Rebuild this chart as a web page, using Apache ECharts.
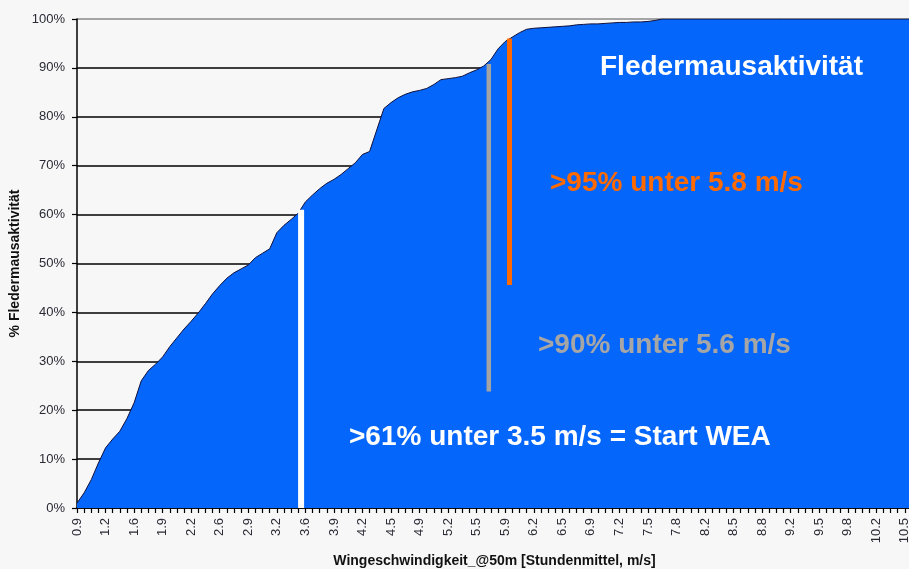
<!DOCTYPE html>
<html>
<head>
<meta charset="utf-8">
<script src="https://cdn.jsdelivr.net/npm/echarts@6/dist/echarts.min.js"></script>
<style>
html,body{margin:0;padding:0;background:#f7f7f7;}
#chart{width:909px;height:569px;}
</style>
</head>
<body>
<div id="chart"></div>
<script>
// Wind speed categories (m/s); every 4th one is labelled on the axis
const windSpeeds = [
  '0.9','0.98','1.05','1.13', '1.2','1.30','1.40','1.50', '1.6','1.68','1.75','1.83',
  '1.9','1.98','2.05','2.13', '2.2','2.30','2.40','2.50', '2.6','2.68','2.75','2.83',
  '2.9','2.98','3.05','3.13', '3.2','3.30','3.40','3.50', '3.6','3.68','3.75','3.83',
  '3.9','3.98','4.05','4.13', '4.2','4.28','4.35','4.43', '4.5','4.60','4.70','4.80',
  '4.9','4.98','5.05','5.13', '5.2','5.28','5.35','5.43', '5.5','5.60','5.70','5.80',
  '5.9','5.98','6.05','6.13', '6.2','6.28','6.35','6.43', '6.5','6.60','6.70','6.80',
  '6.9','6.98','7.05','7.13', '7.2','7.28','7.35','7.43', '7.5','7.58','7.65','7.73',
  '7.8','7.90','8.00','8.10', '8.2','8.28','8.35','8.43', '8.5','8.58','8.65','8.73',
  '8.8','8.90','9.00','9.10', '9.2','9.28','9.35','9.43', '9.5','9.58','9.65','9.73',
  '9.8','9.90','10.00','10.10', '10.2','10.28','10.35','10.43', '10.5','10.58'
];

// Cumulative bat activity (%)
const cumulativeActivity = [
  1.0, 3.1, 5.8, 9.2, 12.3, 14.1, 15.7, 18.3, 21.5, 26.0, 28.1, 29.4,
  30.9, 33.0, 34.8, 36.6, 38.2, 39.9, 41.8, 43.8, 45.5, 47.0, 48.1, 48.9,
  49.7, 51.2, 52.1, 53.0, 56.3, 57.8, 59.0, 60.3, 62.6, 64.0, 65.3, 66.4,
  67.2, 68.2, 69.4, 70.6, 72.3, 72.9, 77.3, 81.7, 82.9, 83.9, 84.6, 85.1,
  85.4, 85.8, 86.6, 87.6, 87.8, 88.0, 88.3, 89.0, 89.6, 90.4, 91.7, 93.9,
  95.4, 96.3, 97.2, 97.9, 98.1, 98.2, 98.3, 98.4, 98.5, 98.6, 98.8, 98.9,
  99.0, 99.0, 99.1, 99.2, 99.3, 99.3, 99.4, 99.4, 99.5, 99.7, 100, 100,
  100, 100, 100, 100, 100, 100, 100, 100, 100, 100, 100, 100,
  100, 100, 100, 100, 100, 100, 100, 100, 100, 100, 100, 100,
  100, 100, 100, 100, 100, 100, 100, 100, 100, 100
];

// Threshold markers: position on the category axis (index units), vertical extent in %
const markerNames  = ['3.5 m/s', '5.6 m/s', '5.8 m/s'];
const markerPos    = [31.4, 57.7, 60.6];
const markerFrom   = [0, 23.8, 45.6];
const markerTo     = [61, 90.8, 96];

const annotationTexts = [
  'Fledermausaktivität',
  '>95% unter 5.8 m/s',
  '>90% unter 5.6 m/s',
  '>61% unter 3.5 m/s = Start WEA'
];

const FONT = "'Liberation Sans', Arial, sans-serif";
const chart = echarts.init(document.getElementById('chart'), null, {renderer: 'canvas'});

const markerColors = ['#ffffff', '#a3a3a3', '#ff6a00'];
const markerWidths = [6, 4.5, 5];

const markerSeries = markerNames.map((n, i) => ({
  name: n,
  type: 'line',
  xAxisIndex: 1,
  yAxisIndex: 0,
  data: [[markerPos[i], markerFrom[i]], [markerPos[i], markerTo[i]]],
  symbol: 'none',
  silent: true,
  z: 5,
  lineStyle: {color: markerColors[i], width: markerWidths[i], cap: 'butt'}
}));

const gridColors = ['#000','#000','#000','#000','#000','#000','#000','#000','#000','#000','#8a8a8a'];

chart.setOption({
  animation: false,
  backgroundColor: '#f7f7f7',
  textStyle: {fontFamily: FONT},
  grid: {left: 77, right: -3, top: 19, bottom: 61, containLabel: false, outerBoundsMode: 'none'},
  xAxis: [{
    type: 'category',
    data: windSpeeds,
    boundaryGap: false,
    name: 'Wingeschwindigkeit_@50m [Stundenmittel, m/s]',
    nameLocation: 'middle',
    nameGap: 46,
    nameMoveOverlap: false,
    nameTextStyle: {fontFamily: FONT, fontWeight: 'bold', fontSize: 14, color: '#111'},
    axisLine: {lineStyle: {color: '#000', width: 1.5}},
    axisTick: {show: true, interval: 0, length: 5, lineStyle: {color: '#000', width: 1.2}},
    axisLabel: {interval: 3, rotate: 90, fontSize: 13, color: '#2a2a35', margin: 10, fontFamily: FONT},
    splitLine: {show: false}
  }, {
    type: 'value',
    min: 0,
    max: windSpeeds.length - 1,
    show: false
  }],
  yAxis: {
    type: 'value',
    min: 0,
    max: 100,
    interval: 10,
    name: '% Fledermausaktivität',
    nameLocation: 'middle',
    nameGap: 55,
    nameRotate: 90,
    nameMoveOverlap: false,
    nameTextStyle: {fontFamily: FONT, fontWeight: 'bold', fontSize: 14, color: '#111'},
    axisLine: {show: true, lineStyle: {color: '#000', width: 1.5}},
    axisTick: {show: true, length: 5, lineStyle: {color: '#000', width: 1.2}},
    axisLabel: {formatter: '{value}%', fontSize: 13, color: '#2a2a35', margin: 12, fontFamily: FONT},
    splitLine: {show: true, lineStyle: {color: gridColors, width: 1.5}}
  },
  series: [{
    name: 'Fledermausaktivität',
    type: 'line',
    data: cumulativeActivity,
    symbol: 'none',
    silent: true,
    z: 3,
    lineStyle: {color: '#10103a', width: 1},
    areaStyle: {color: '#0566fb', opacity: 1}
  }].concat(markerSeries),
  graphic: [
    {type: 'text', left: 600, top: 53, z: 10, style: {text: annotationTexts[0], fill: '#ffffff', font: 'bold 28px ' + FONT}},
    {type: 'text', left: 550, top: 169, z: 10, style: {text: annotationTexts[1], fill: '#ff6a00', font: 'bold 28px ' + FONT}},
    {type: 'text', left: 538, top: 331, z: 10, style: {text: annotationTexts[2], fill: '#a6a6a6', font: 'bold 28px ' + FONT}},
    {type: 'text', left: 349, top: 423, z: 10, style: {text: annotationTexts[3], fill: '#ffffff', font: 'bold 28px ' + FONT}}
  ]
});
</script>
</body>
</html>
